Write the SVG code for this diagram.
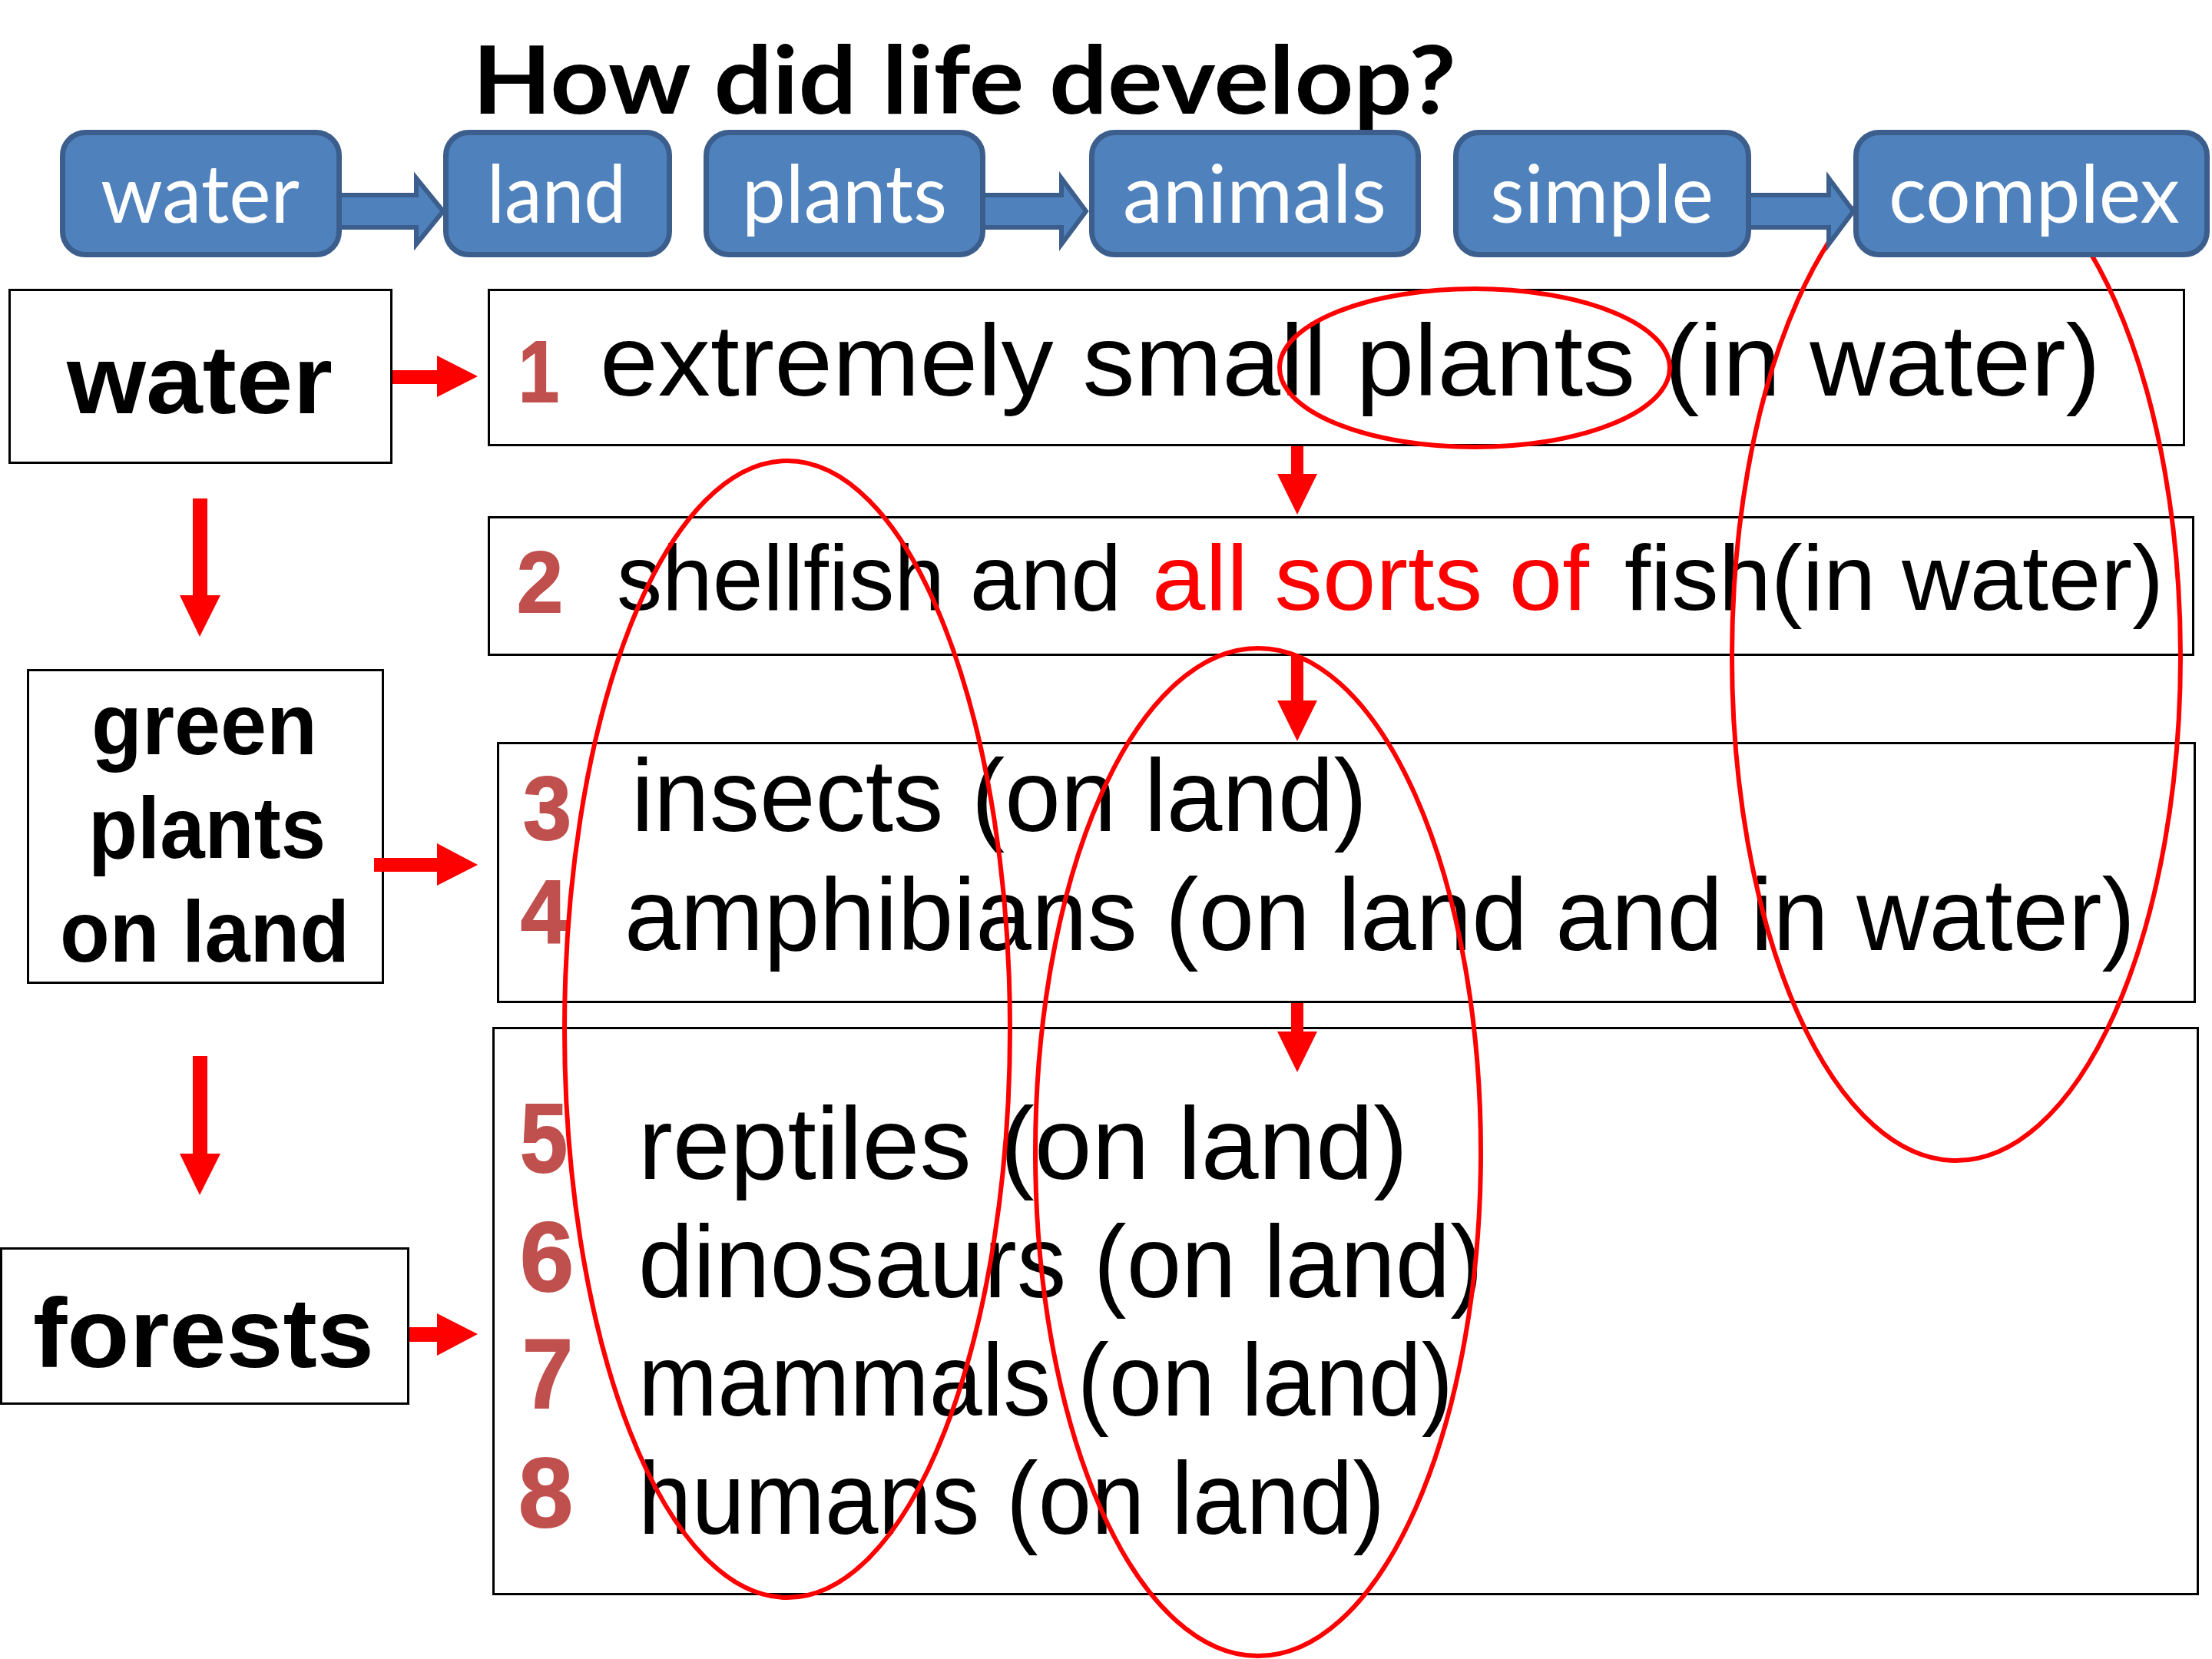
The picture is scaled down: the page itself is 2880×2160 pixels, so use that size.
<svg xmlns="http://www.w3.org/2000/svg" width="2880" height="2160" viewBox="0 0 2880 2160">
<style>
.bg{fill:#ffffff}
.blue{fill:#4F81BD;stroke:#3B5E8C;stroke-width:7}
.btxt{font-family:Lato,"Open Sans","Liberation Sans",sans-serif;font-size:104px;fill:#ffffff}
.title{font-family:Lato,"Liberation Sans",sans-serif;font-weight:bold;font-size:123px;fill:#000000}
.box{fill:#ffffff;stroke:#000000;stroke-width:3}
.lt{font-family:"Liberation Sans",Arial,sans-serif;font-weight:bold;fill:#000000}
.rt{font-family:"Liberation Sans",Arial,sans-serif;fill:#000000}
.red{fill:#FF0000}
.num{font-family:"Liberation Sans",Arial,sans-serif;font-weight:bold;fill:#C0504D;stroke:#C0504D;stroke-width:2}
.barrow{fill:#4F81BD;stroke:#3B5E8C;stroke-width:6;stroke-linejoin:miter}
.rarrow{fill:#FF0000;stroke:none}
.ell{fill:none;stroke:#FF0000;stroke-width:6}
</style>
<rect class="bg" x="0" y="0" width="2880" height="2160"/>

<g id="box-water-left">
<rect class="box" x="12.5" y="377.5" width="497" height="225"/>
<text class="lt" x="87" y="538" font-size="126" textLength="346" lengthAdjust="spacingAndGlyphs">water</text>
</g>
<g id="box-green-plants">
<rect class="box" x="36.5" y="872.5" width="462" height="407"/>
<text class="lt" x="119" y="982" font-size="114" textLength="294" lengthAdjust="spacingAndGlyphs">green</text>
<text class="lt" x="115" y="1117" font-size="114" textLength="309" lengthAdjust="spacingAndGlyphs">plants</text>
<text class="lt" x="78" y="1252" font-size="114" textLength="377" lengthAdjust="spacingAndGlyphs">on land</text>
</g>
<g id="box-forests">
<rect class="box" x="1.5" y="1625.5" width="530" height="202"/>
<text class="lt" x="43" y="1780" font-size="128" textLength="444" lengthAdjust="spacingAndGlyphs">forests</text>
</g>

<g id="stage-1">
<rect class="box" x="636.5" y="377.5" width="2207" height="202"/>
<text class="num" x="675" y="523" font-size="113" textLength="53" lengthAdjust="spacingAndGlyphs">1</text>
<text class="rt" x="781" y="515" font-size="132" textLength="1954" lengthAdjust="spacingAndGlyphs">extremely small plants (in water)</text>
</g>
<g id="stage-2">
<rect class="box" x="636.5" y="673.5" width="2219" height="179"/>
<text class="num" x="673" y="797" font-size="113" textLength="60" lengthAdjust="spacingAndGlyphs">2</text>
<text class="rt" x="803" y="794" font-size="120" textLength="657" lengthAdjust="spacingAndGlyphs">shellfish and</text>
<text class="rt red" x="1500" y="794" font-size="120" textLength="569" lengthAdjust="spacingAndGlyphs">all sorts of</text>
<text class="rt" x="2115" y="794" font-size="120" textLength="702" lengthAdjust="spacingAndGlyphs">fish(in water)</text>
</g>
<g id="stage-3-4">
<rect class="box" x="648.5" y="967.5" width="2209" height="337"/>
<text class="num" x="681" y="1093" font-size="116" textLength="63" lengthAdjust="spacingAndGlyphs">3</text>
<text class="rt" x="822" y="1082" font-size="134" textLength="958" lengthAdjust="spacingAndGlyphs">insects (on land)</text>
<text class="num" x="678" y="1227" font-size="116" textLength="61" lengthAdjust="spacingAndGlyphs">4</text>
<text class="rt" x="813" y="1237" font-size="134" textLength="1967" lengthAdjust="spacingAndGlyphs">amphibians (on land and in water)</text>
</g>
<g id="stage-5-8">
<rect class="box" x="642.5" y="1338.5" width="2219" height="737"/>
<text class="num" x="677" y="1526" font-size="128" textLength="62" lengthAdjust="spacingAndGlyphs">5</text>
<text class="rt" x="831" y="1535" font-size="134" textLength="1002" lengthAdjust="spacingAndGlyphs">reptiles (on land)</text>
<text class="num" x="677" y="1681" font-size="128" textLength="70" lengthAdjust="spacingAndGlyphs">6</text>
<text class="rt" x="831" y="1689" font-size="134" textLength="1100" lengthAdjust="spacingAndGlyphs">dinosaurs (on land)</text>
<text class="num" x="680" y="1833" font-size="128" textLength="66" lengthAdjust="spacingAndGlyphs">7</text>
<text class="rt" x="831" y="1843" font-size="134" textLength="1061" lengthAdjust="spacingAndGlyphs">mammals (on land)</text>
<text class="num" x="675" y="1988" font-size="128" textLength="71" lengthAdjust="spacingAndGlyphs">8</text>
<text class="rt" x="831" y="1997" font-size="134" textLength="972" lengthAdjust="spacingAndGlyphs">humans (on land)</text>
</g>

<g id="highlights">
<ellipse class="ell" cx="1920" cy="479" rx="254" ry="103" stroke-width="8"/>
<ellipse class="ell" cx="1025" cy="1340" rx="290" ry="740"/>
<ellipse class="ell" cx="1638" cy="1500" rx="290" ry="656"/>
<ellipse class="ell" cx="2547" cy="855" rx="292" ry="656"/>
</g>

<g id="connectors">
<polygon class="barrow" points="440,254 542,254 542,232 577,275 542,318 542,296 440,296"/>
<polygon class="barrow" points="1278,254 1382,254 1382,232 1414,275 1382,318 1382,296 1278,296"/>
<polygon class="barrow" points="2275,254 2381,254 2381,232 2413,275 2381,318 2381,296 2275,296"/>
<polygon class="rarrow" points="511,482 569,482 569,463 622,490 569,517 569,500 511,500"/>
<polygon class="rarrow" points="487,1117 569,1117 569,1098 622,1126 569,1153 569,1135 487,1135"/>
<polygon class="rarrow" points="533,1728 569,1728 569,1710 622,1737 569,1765 569,1747 533,1747"/>
<polygon class="rarrow" points="251,649 270,649 270,775 287,775 260,829 234,775 251,775"/>
<polygon class="rarrow" points="251,1375 270,1375 270,1502 287,1502 260,1556 234,1502 251,1502"/>
<polygon class="rarrow" points="1681,581 1697,581 1697,617 1715,617 1689,670 1663,617 1681,617"/>
<polygon class="rarrow" points="1681,854 1697,854 1697,912 1715,912 1689,965 1663,912 1681,912"/>
<polygon class="rarrow" points="1681,1306 1697,1306 1697,1343 1715,1343 1689,1396 1663,1343 1681,1343"/>
</g>

<g id="node-water">
<rect class="blue" x="81.5" y="172.5" width="360" height="159" rx="30"/>
<text class="btxt" x="131" y="290" textLength="259" lengthAdjust="spacingAndGlyphs">water</text>
</g>
<g id="node-land">
<rect class="blue" x="580.5" y="172.5" width="291" height="159" rx="30"/>
<text class="btxt" x="634" y="290" textLength="181" lengthAdjust="spacingAndGlyphs">land</text>
</g>
<g id="node-plants">
<rect class="blue" x="919.5" y="172.5" width="360" height="159" rx="30"/>
<text class="btxt" x="966" y="290" textLength="267" lengthAdjust="spacingAndGlyphs">plants</text>
</g>
<g id="node-animals">
<rect class="blue" x="1421.5" y="172.5" width="425" height="159" rx="30"/>
<text class="btxt" x="1462" y="290" textLength="343" lengthAdjust="spacingAndGlyphs">animals</text>
</g>
<g id="node-simple">
<rect class="blue" x="1895.5" y="172.5" width="381" height="159" rx="30"/>
<text class="btxt" x="1940" y="290" textLength="291" lengthAdjust="spacingAndGlyphs">simple</text>
</g>
<g id="node-complex">
<rect class="blue" x="2416.5" y="172.5" width="457" height="159" rx="30"/>
<text class="btxt" x="2459" y="290" textLength="379" lengthAdjust="spacingAndGlyphs">complex</text>
</g>

<g id="title">
<text class="title" x="615" y="148" textLength="1281" lengthAdjust="spacingAndGlyphs">How did life develop?</text>
</g>
</svg>
